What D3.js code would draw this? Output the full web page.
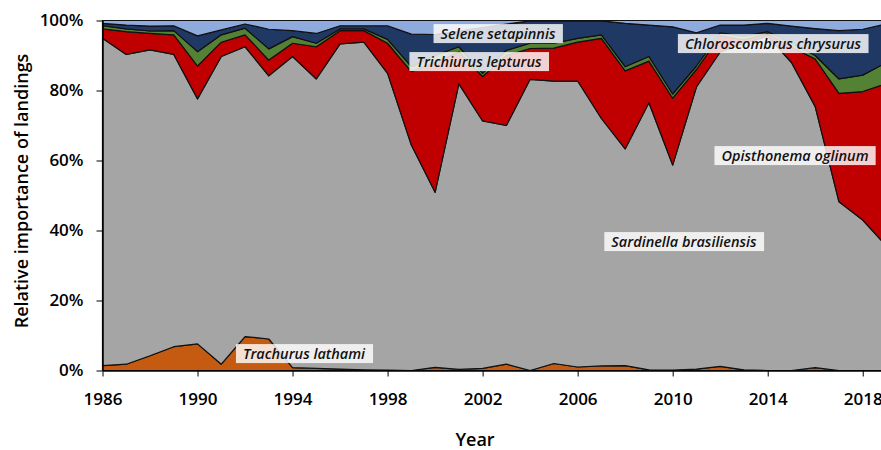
<!DOCTYPE html>
<html>
<head>
<meta charset="utf-8">
<script src="https://cdn.jsdelivr.net/npm/d3@7"></script>
<style>
  body { margin: 0; background: #fff; }
  text { font-family: "Open Sans", "Noto Sans", sans-serif; }
</style>
</head>
<body>
<svg id="chart" width="881" height="450"></svg>
<script>
// relative importance of landings (%), 1986-2019
var years = d3.range(1986, 2020);
var trachurus = [1.4,1.8,4.2,6.8,7.6,1.8,9.7,9.0,0.8,0.6,0.4,0.2,0.1,0,0.9,0.3,0.6,1.8,0,2.0,1.0,1.3,1.4,0.2,0.1,0.4,1.2,0.2,0,0,0.8,0,0,0];
var sardinella = [93.5,88.5,87.4,83.5,70.0,87.9,82.8,75.2,88.9,82.7,92.9,93.6,84.8,64.4,50.0,81.6,70.7,68.2,83.2,80.7,81.7,70.7,61.9,76.3,58.6,80.6,89.8,93.3,95.5,88,74.6,48.2,43,35.5];
var opisthonema = [2.7,6.5,4.7,5.6,9.4,4.1,3.4,4.5,3.8,9.2,3.8,3.3,8.6,21.0,37.1,9.1,12.7,20.0,8.8,9.4,11.1,22.9,22.3,11.9,19.1,5.0,4.6,1.0,0.7,4.4,13.6,31.0,36.7,46.5];
var trichiurus = [0.9,0.8,0.7,1.2,4.1,2.1,1.9,3.2,1.9,1.0,0.5,0.5,1.1,1.4,2.0,1.5,0.9,1.5,1.5,1.4,1.1,1.0,1.2,1.3,1.2,1.0,0.9,1.0,0.6,1.2,1.0,4.1,4.7,6.0];
var chloroscombrus = [0.7,1.1,1.4,1.4,4.5,1.4,1.2,5.6,1.7,2.8,0.9,0.9,3.9,9.3,6.0,4.5,13.1,7.5,6.4,6.4,5.0,4.0,12.4,9.0,19.2,9.5,2.2,3.2,2.4,4.8,7.7,13.8,13.1,11.0];
var selene = [0.8,1.3,1.6,1.5,4.4,2.7,1.0,2.5,2.9,3.7,1.5,1.5,1.5,3.9,4.0,3.0,2.0,1.0,0.1,0.1,0.1,0.1,0.8,1.3,1.8,3.5,1.3,1.3,0.8,1.6,2.3,2.9,2.5,1.0];

var species = ["Trachurus lathami","Sardinella brasiliensis","Opisthonema oglinum","Trichiurus lepturus","Chloroscombrus chrysurus","Selene setapinnis"];
var seriesValues = [trachurus, sardinella, opisthonema, trichiurus, chloroscombrus, selene];
var colors = ["#C55A11","#A5A5A5","#C00000","#548235","#203864","#8FAADC"];
var xTicks = d3.range(1986, 2019, 4);
var yTicks = [0,20,40,60,80,100];

var rows = years.map(function(y, i){
  var r = {year: y};
  species.forEach(function(s, k){ r[s] = seriesValues[k][i]; });
  return r;
});

var svg = d3.select("#chart");
var x = d3.scaleLinear().domain([1986, 2019]).range([102.5, 886.5]);
var y = d3.scaleLinear().domain([0, 100]).range([370.5, 20.5]);

var layers = d3.stack().keys(species)(rows);

var area = d3.area()
  .x(function(d){ return x(d.data.year); })
  .y0(function(d){ return y(d[0]); })
  .y1(function(d){ return y(d[1]); });

svg.append("g").selectAll("path")
  .data(layers)
.enter().append("path")
  .attr("d", area)
  .style("fill", function(d,i){ return colors[i]; })
  .style("stroke", "#111")
  .style("stroke-width", 1.2)
  .style("stroke-linejoin", "round");

// axes
var xAxis = svg.append("g")
  .attr("transform", "translate(0," + y(0) + ")")
  .call(d3.axisBottom(x).tickValues(xTicks).tickFormat(d3.format("d")).tickSize(6).tickSizeOuter(0));
xAxis.select(".domain").style("stroke", "#000").style("stroke-width", 1.5);
xAxis.selectAll("text")
  .attr("y", 22)
  .style("font-size", "17px")
  .style("font-weight", "600")
  .style("fill", "#000");

var yAxis = svg.append("g")
  .attr("transform", "translate(" + x(1986) + ",0)")
  .call(d3.axisLeft(y).tickValues(yTicks).tickFormat(function(d){ return d + "%"; }).tickSize(6).tickSizeOuter(0));
yAxis.select(".domain").style("stroke", "#000").style("stroke-width", 1.5);
yAxis.selectAll("text")
  .attr("x", -19)
  .style("font-size", "17px")
  .style("font-weight", "600")
  .style("fill", "#000");

svg.append("text")
  .attr("transform", "translate(22,191) rotate(-90)")
  .attr("text-anchor", "middle")
  .attr("dy", "0.35em")
  .style("font-size", "18px")
  .style("font-weight", "600")
  .text("Relative importance of landings");

svg.append("text")
  .attr("x", 475)
  .attr("y", 446)
  .attr("text-anchor", "middle")
  .style("font-size", "18px")
  .style("font-weight", "600")
  .text("Year");

// species labels
var labels = [
  {name: "Selene setapinnis", cx: 498, cy: 34},
  {name: "Trichiurus lepturus", cx: 479, cy: 62},
  {name: "Chloroscombrus chrysurus", cx: 773, cy: 44},
  {name: "Opisthonema oglinum", cx: 795, cy: 156},
  {name: "Sardinella brasiliensis", cx: 684, cy: 242},
  {name: "Trachurus lathami", cx: 304, cy: 354}
];
var lab = svg.append("g").selectAll("g")
  .data(labels)
.enter().append("g");
lab.append("text")
  .attr("x", function(d){ return d.cx; })
  .attr("y", function(d){ return d.cy; })
  .attr("dy", "0.35em")
  .attr("text-anchor", "middle")
  .style("font-size", "14.5px")
  .style("font-weight", "600")
  .style("font-style", "italic")
  .style("fill", "#111")
  .text(function(d){ return d.name; });
lab.each(function(){
  var g = d3.select(this);
  var b = g.select("text").node().getBBox();
  g.insert("rect", "text")
    .attr("x", b.x - 7)
    .attr("y", b.y)
    .attr("width", b.width + 14)
    .attr("height", b.height)
    .style("fill", "#fff")
    .style("fill-opacity", 0.82);
});
</script>
</body>
</html>
